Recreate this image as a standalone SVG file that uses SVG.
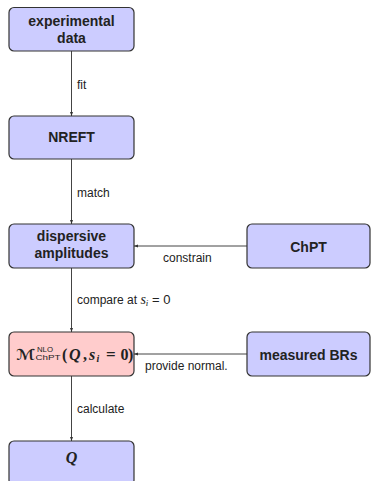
<svg xmlns="http://www.w3.org/2000/svg" width="371" height="481" viewBox="0 0 371 481">
<style>
.box{fill:#ccccff;stroke:#333;stroke-width:1.2}
.pink{fill:#ffcccc;stroke:#333;stroke-width:1.2}
.t{font-family:"Liberation Sans","DejaVu Sans",sans-serif;font-size:14px;font-weight:bold;fill:#222;text-anchor:middle}
.l{font-family:"Liberation Sans","DejaVu Sans",sans-serif;font-size:12px;fill:#222}
.s{font-family:"Liberation Sans","DejaVu Sans",sans-serif;font-size:8px;fill:#222}
.m{font-family:"Liberation Serif","DejaVu Serif",serif;font-weight:bold;font-size:16px;fill:#222}
.e{stroke:#444;stroke-width:1;fill:none;marker-end:url(#ah)}
</style>
<defs>
<marker id="ah" markerWidth="4" markerHeight="4" refX="4" refY="2" orient="auto" markerUnits="userSpaceOnUse">
<path d="M0,0.5 L4,2 L0,3.5 Z" fill="#333"/>
</marker>
</defs>
<rect width="371" height="481" fill="#fff"/>
<g id="connectors">
<line class="e" x1="71.5" y1="51" x2="71.5" y2="116"/>
<text class="l" x="77" y="89">fit</text>
<line class="e" x1="71.5" y1="159" x2="71.5" y2="224"/>
<text class="l" x="77" y="197">match</text>
<line class="e" x1="247" y1="246" x2="134" y2="246"/>
<text class="l" x="163" y="262">constrain</text>
<line class="e" x1="71.5" y1="268" x2="71.5" y2="332"/>
<text class="l" x="77" y="304">compare at <tspan font-family="Liberation Serif,serif" font-style="italic" font-size="14">s</tspan><tspan font-family="Liberation Serif,serif" font-style="italic" font-size="9" dy="2">i</tspan><tspan dy="-2" font-size="13"> = 0</tspan></text>
<line class="e" x1="247" y1="354" x2="134" y2="354"/>
<text class="l" x="145" y="370">provide normal.</text>
<line class="e" x1="71.5" y1="376" x2="71.5" y2="441"/>
<text class="l" x="77" y="413">calculate</text>
</g>
<g id="n1"><rect class="box" x="9" y="7.5" width="125" height="43.5" rx="5"/><text class="t" x="71.5" y="26">experimental</text><text class="t" x="71.5" y="43">data</text></g>
<g id="n2"><rect class="box" x="9" y="116" width="125" height="43" rx="5"/><text class="t" x="71.5" y="142">NREFT</text></g>
<g id="n3"><rect class="box" x="9" y="224" width="125" height="44" rx="5"/><text class="t" x="71.5" y="241">dispersive</text><text class="t" x="71.5" y="258">amplitudes</text></g>
<g id="n4"><rect class="box" x="247" y="224" width="123" height="44" rx="5"/><text class="t" x="308.5" y="252">ChPT</text></g>
<g id="n5"><rect class="pink" x="9" y="332" width="125" height="44" rx="5"/>
<text x="16" y="360" font-family="DejaVu Sans,sans-serif" font-size="15" font-weight="bold" fill="#222" textLength="19" lengthAdjust="spacingAndGlyphs">ℳ</text>
<text class="s" x="37" y="351.5" textLength="16" lengthAdjust="spacingAndGlyphs">NLO</text>
<text class="s" x="35.5" y="360" textLength="25" lengthAdjust="spacingAndGlyphs">ChPT</text>
<text class="m" y="360"><tspan x="62">(</tspan><tspan x="69" font-style="italic">Q</tspan><tspan x="83">,</tspan><tspan x="89" font-style="italic">s</tspan><tspan x="96.5" font-style="italic" font-size="10" dy="2">i</tspan><tspan x="106" dy="-2" font-size="17">=</tspan><tspan x="120.5">0</tspan><tspan x="128">)</tspan></text>
</g>
<g id="n6"><rect class="box" x="247" y="332" width="123" height="44" rx="5"/><text class="t" x="308.5" y="360">measured BRs</text></g>
<g id="n7"><rect class="box" x="9" y="441" width="125" height="44" rx="5"/><text class="m" x="71.5" y="463" font-style="italic" text-anchor="middle">Q</text></g>
</svg>
